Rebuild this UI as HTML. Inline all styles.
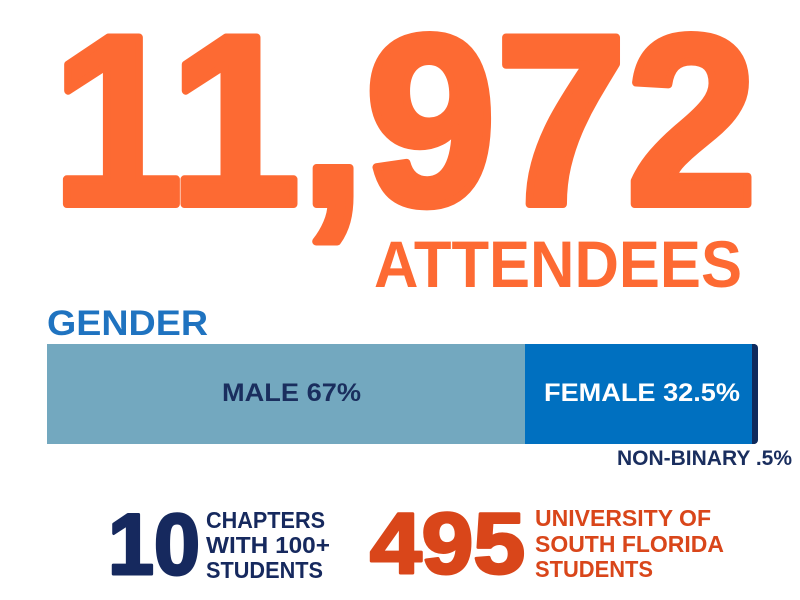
<!DOCTYPE html>
<html><head><meta charset="utf-8"><style>
html,body{margin:0;padding:0;background:#fff;}
svg{display:block;}
text{font-family:"Liberation Sans",sans-serif;font-weight:bold;}
</style></head><body>
<svg width="800" height="600" viewBox="0 0 800 600" xmlns="http://www.w3.org/2000/svg">
<text x="52" y="204" font-size="242" fill="#fd6a33" stroke="#fd6a33" stroke-width="8" stroke-linejoin="round" textLength="705" lengthAdjust="spacingAndGlyphs">11,972</text>
<text x="374" y="287" font-size="66" fill="#fd6a33" textLength="368" lengthAdjust="spacingAndGlyphs">ATTENDEES</text>
<text x="47" y="335" font-size="35" fill="#1f73c0" textLength="161" lengthAdjust="spacingAndGlyphs">GENDER</text>
<rect x="47" y="344" width="478" height="100" fill="#73a8bf"/>
<rect x="525" y="344" width="230" height="100" fill="#0070c0"/>
<path d="M752 344 h2 a4 4 0 0 1 4 4 v92 a4 4 0 0 1 -4 4 h-2 z" fill="#0f2a5c"/>
<text x="222" y="401" font-size="25" fill="#1a2e5e" textLength="139" lengthAdjust="spacingAndGlyphs">MALE 67%</text>
<text x="544" y="401" font-size="25" fill="#ffffff" textLength="196" lengthAdjust="spacingAndGlyphs">FEMALE 32.5%</text>
<text x="617" y="465" font-size="21" fill="#1a2e5e" textLength="175" lengthAdjust="spacingAndGlyphs">NON-BINARY .5%</text>
<text x="108" y="574" font-size="86" fill="#16295e" stroke="#16295e" stroke-width="3" stroke-linejoin="round" textLength="92" lengthAdjust="spacingAndGlyphs">10</text>
<g font-size="23" fill="#16295e">
<text x="206" y="528" textLength="119" lengthAdjust="spacingAndGlyphs">CHAPTERS</text>
<text x="206" y="553" textLength="124" lengthAdjust="spacingAndGlyphs">WITH 100+</text>
<text x="206" y="578" textLength="117" lengthAdjust="spacingAndGlyphs">STUDENTS</text>
</g>
<text x="370" y="573" font-size="86" fill="#d9461a" stroke="#d9461a" stroke-width="3" stroke-linejoin="round" textLength="155" lengthAdjust="spacingAndGlyphs">495</text>
<g font-size="23" fill="#d9461a">
<text x="535" y="526" textLength="176" lengthAdjust="spacingAndGlyphs">UNIVERSITY OF</text>
<text x="535" y="552" textLength="189" lengthAdjust="spacingAndGlyphs">SOUTH FLORIDA</text>
<text x="535" y="577" textLength="118" lengthAdjust="spacingAndGlyphs">STUDENTS</text>
</g>
</svg>
</body></html>
